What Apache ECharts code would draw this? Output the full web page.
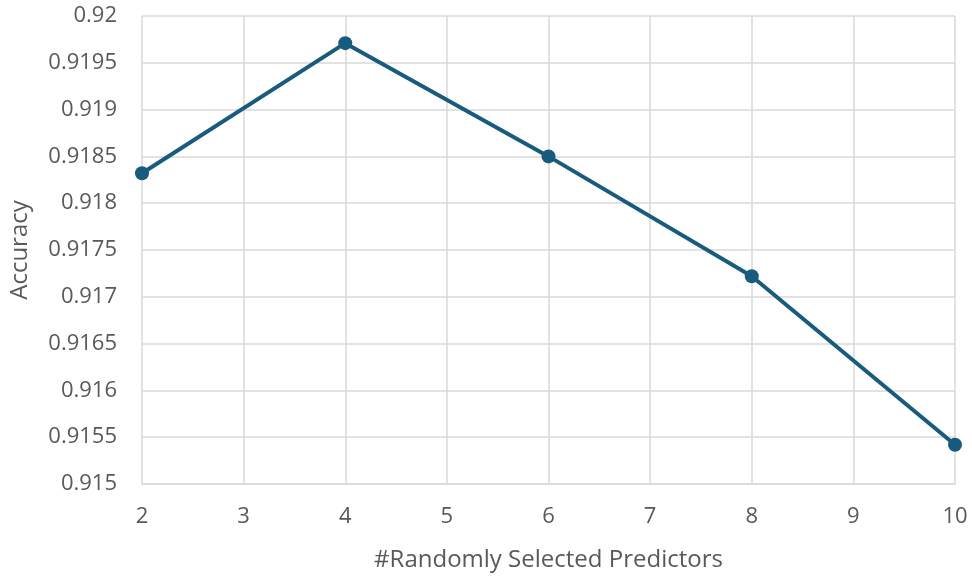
<!DOCTYPE html>
<html><head><meta charset="utf-8">
<script src="https://cdn.jsdelivr.net/npm/echarts@6/dist/echarts.min.js"></script>
<style>html,body{margin:0;padding:0;background:#fff}#c{width:972px;height:577px}</style>
</head><body><div id="c"></div>
<script>
const predictors = [2, 4, 6, 8, 10];
const accuracy = [0.91832, 0.91971, 0.91850, 0.91722, 0.91542];
const xName = '#Randomly Selected Predictors';
const yName = 'Accuracy';

const chart = echarts.init(document.getElementById('c'));
const font = 'Open Sans';
chart.setOption({
  animation: false,
  grid: {left: 142, right: 17, top: 16, bottom: 91},
  xAxis: {
    type: 'value', min: 2, max: 10, interval: 1,
    name: xName, nameLocation: 'middle', nameGap: 64,
    nameTextStyle: {color: '#595959', fontSize: 24, fontFamily: font},
    axisLine: {show: true, lineStyle: {color: '#d9d9d9', width: 1.5}},
    axisTick: {show: false},
    axisLabel: {color: '#595959', fontSize: 22, fontFamily: font, margin: 22},
    splitLine: {show: true, lineStyle: {color: '#d9d9d9', width: 1.5}}
  },
  yAxis: {
    type: 'value', min: 0.915, max: 0.92, interval: 0.0005,
    name: yName, nameLocation: 'middle', nameGap: 110, nameRotate: 90,
    nameTextStyle: {color: '#595959', fontSize: 24, fontFamily: font},
    axisLine: {show: false},
    axisTick: {show: false},
    axisLabel: {color: '#595959', fontSize: 22, fontFamily: font, margin: 25,
      formatter: v => String(parseFloat(v.toFixed(4)))},
    splitLine: {show: true, lineStyle: {color: '#d9d9d9', width: 1.5}}
  },
  series: [{
    type: 'line',
    data: predictors.map((x, i) => [x, accuracy[i]]),
    symbol: 'circle', symbolSize: 14,
    lineStyle: {color: '#195b7c', width: 4},
    itemStyle: {color: '#195b7c'}
  }]
});
</script></body></html>
